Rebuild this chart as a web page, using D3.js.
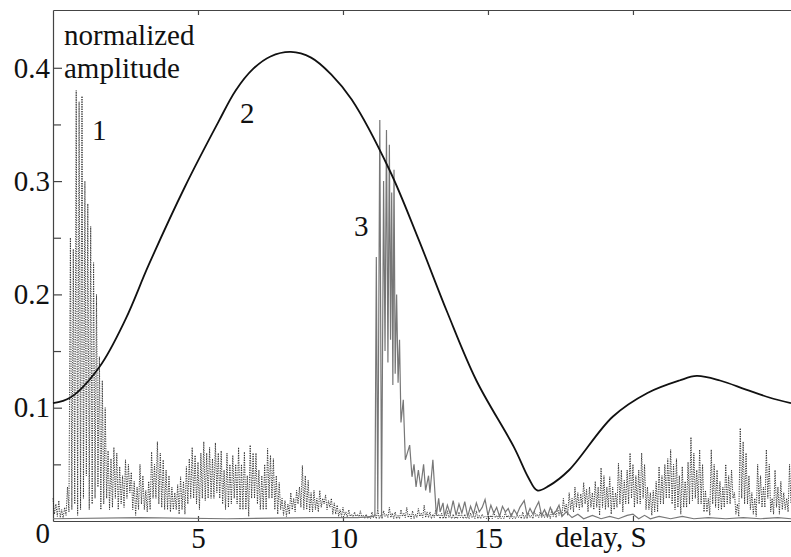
<!DOCTYPE html>
<html>
<head>
<meta charset="utf-8">
<script src="https://cdn.jsdelivr.net/npm/d3@7"></script>
<style>
  body { margin: 0; background: #fff; }
  svg text { font-family: "Liberation Serif", "DejaVu Serif", "Times New Roman", Times, serif !important; fill: #111; }
</style>
</head>
<body>
<svg id="chart" width="791" height="557"></svg>
<script>
// curve 1: dotted, sampled every 0.05 of delay (starting at 0)
var step1 = 0.05;
var amp1 = [
  0.02, 0.006, 0.015, 0.004, 0.018, 0.003, 0.01, 0.002, 0.012, 0.005,
  0.03, 0.008, 0.25, 0.01, 0.24, 0.015, 0.38, 0.005, 0.37, 0.01,
  0.375, 0.02, 0.3, 0.04, 0.28, 0.01, 0.26, 0.015, 0.228, 0.02,
  0.2, 0.03, 0.145, 0.01, 0.124, 0.015, 0.1, 0.02, 0.062, 0.01,
  0.055, 0.012, 0.065, 0.02, 0.06, 0.01, 0.048, 0.015, 0.04, 0.012,
  0.054, 0.02, 0.05, 0.025, 0.043, 0.01, 0.035, 0.005, 0.03, 0.01,
  0.05, 0.015, 0.04, 0.01, 0.027, 0.008, 0.035, 0.01, 0.061, 0.02,
  0.05, 0.02, 0.07, 0.015, 0.06, 0.012, 0.054, 0.01, 0.045, 0.01,
  0.04, 0.008, 0.03, 0.01, 0.025, 0.01, 0.032, 0.006, 0.039, 0.01,
  0.035, 0.006, 0.048, 0.015, 0.055, 0.02, 0.065, 0.02, 0.058, 0.015,
  0.052, 0.01, 0.06, 0.02, 0.07, 0.018, 0.06, 0.02, 0.065, 0.02,
  0.055, 0.02, 0.069, 0.025, 0.06, 0.02, 0.062, 0.015, 0.045, 0.01,
  0.06, 0.012, 0.05, 0.015, 0.058, 0.02, 0.05, 0.015, 0.065, 0.01,
  0.05, 0.01, 0.061, 0.01, 0.04, 0.004, 0.067, 0.02, 0.06, 0.02,
  0.06, 0.015, 0.045, 0.01, 0.04, 0.01, 0.05, 0.01, 0.064, 0.02,
  0.058, 0.02, 0.055, 0.01, 0.04, 0.006, 0.034, 0.01, 0.02, 0.005,
  0.018, 0.004, 0.015, 0.006, 0.025, 0.01, 0.02, 0.008, 0.027, 0.015,
  0.03, 0.012, 0.049, 0.01, 0.04, 0.01, 0.036, 0.008, 0.025, 0.008,
  0.027, 0.01, 0.02, 0.008, 0.027, 0.012, 0.02, 0.015, 0.023, 0.01,
  0.018, 0.012, 0.02, 0.006, 0.016, 0.006, 0.014, 0.004, 0.01, 0.004,
  0.012, 0.005, 0.008, 0.003, 0.01, 0.004, 0.006, 0.003, 0.008, 0.003,
  0.006, 0.003, 0.009, 0.003, 0.005, 0.002, 0.006, 0.002, 0.004, 0.002,
  0.008, 0.003, 0.006, 0.002, 0.01, 0.002, 0.005, 0.002, 0.009, 0.004,
  0.006, 0.003, 0.012, 0.003, 0.007, 0.002, 0.008, 0.002, 0.005, 0.002,
  0.01, 0.004, 0.007, 0.003, 0.012, 0.003, 0.006, 0.002, 0.009, 0.002,
  0.006, 0.003, 0.011, 0.004, 0.007, 0.003, 0.014, 0.003, 0.008, 0.003,
  0.008, 0.002, 0.006, 0.003, 0.01, 0.004, 0.006, 0.002, 0.007, 0.002,
  0.005, 0.002, 0.009, 0.003, 0.005, 0.002, 0.006, 0.002, 0.004, 0.002,
  0.008, 0.003, 0.005, 0.002, 0.006, 0.002, 0.004, 0.002, 0.007, 0.003,
  0.005, 0.002, 0.009, 0.002, 0.005, 0.002, 0.006, 0.003, 0.004, 0.002,
  0.007, 0.002, 0.005, 0.002, 0.009, 0.003, 0.005, 0.002, 0.006, 0.002,
  0.004, 0.002, 0.008, 0.003, 0.005, 0.002, 0.007, 0.002, 0.004, 0.002,
  0.006, 0.003, 0.005, 0.002, 0.008, 0.002, 0.005, 0.002, 0.007, 0.003,
  0.005, 0.002, 0.009, 0.004, 0.006, 0.003, 0.008, 0.003, 0.006, 0.003,
  0.008, 0.003, 0.006, 0.002, 0.01, 0.004, 0.008, 0.003, 0.012, 0.005,
  0.01, 0.004, 0.02, 0.008, 0.015, 0.005, 0.025, 0.01, 0.02, 0.008,
  0.03, 0.012, 0.025, 0.01, 0.024, 0.012, 0.034, 0.015, 0.028, 0.008,
  0.03, 0.012, 0.025, 0.01, 0.035, 0.012, 0.03, 0.005, 0.047, 0.012,
  0.04, 0.01, 0.03, 0.012, 0.039, 0.006, 0.03, 0.01, 0.025, 0.012,
  0.051, 0.015, 0.045, 0.008, 0.036, 0.015, 0.045, 0.015, 0.06, 0.02,
  0.05, 0.012, 0.04, 0.015, 0.045, 0.015, 0.06, 0.02, 0.05, 0.01,
  0.03, 0.01, 0.025, 0.005, 0.027, 0.008, 0.035, 0.008, 0.048, 0.015,
  0.04, 0.015, 0.05, 0.02, 0.055, 0.02, 0.063, 0.015, 0.05, 0.01,
  0.055, 0.012, 0.04, 0.006, 0.048, 0.012, 0.035, 0.012, 0.052, 0.015,
  0.074, 0.018, 0.06, 0.02, 0.045, 0.015, 0.063, 0.015, 0.05, 0.008,
  0.027, 0.008, 0.02, 0.005, 0.063, 0.015, 0.05, 0.012, 0.045, 0.01,
  0.035, 0.01, 0.03, 0.012, 0.05, 0.015, 0.04, 0.015, 0.045, 0.02,
  0.025, 0.006, 0.015, 0.004, 0.082, 0.02, 0.07, 0.015, 0.06, 0.015,
  0.04, 0.01, 0.025, 0.006, 0.02, 0.004, 0.05, 0.015, 0.04, 0.012,
  0.03, 0.012, 0.063, 0.02, 0.05, 0.008, 0.02, 0.006, 0.045, 0.012,
  0.03, 0.006, 0.035, 0.01, 0.025, 0.01, 0.02, 0.008, 0.05, 0.015
];

// curve 2: smooth, [delay, amplitude]
var curve2 = [
  [0, 0.104], [0.6, 0.109], [1.6, 0.136], [2.5, 0.178], [3.3, 0.226],
  [4.55, 0.295], [5.7, 0.352], [6.3, 0.38], [6.9, 0.399], [7.5, 0.41],
  [8.2, 0.414], [8.9, 0.409], [9.6, 0.394], [10.3, 0.372], [11.6, 0.31],
  [12.6, 0.249], [13.6, 0.184], [14.6, 0.124], [15.9, 0.065], [16.4, 0.038],
  [16.7, 0.027], [17.1, 0.031], [17.8, 0.045], [19.3, 0.092], [20.5, 0.113],
  [21.6, 0.124], [22.2, 0.128], [23.0, 0.124], [23.9, 0.116], [24.7, 0.109],
  [25.45, 0.104]
];

// curve 3: gray, [delay, amplitude]
var curve3 = [
  [0, 0.002], [3, 0.003], [6, 0.002], [9, 0.003], [10.5, 0.003], [11.05, 0.004],
  [11.1, 0.005], [11.15, 0.233], [11.2, 0.01], [11.27, 0.354], [11.33, 0.004],
  [11.4, 0.3], [11.45, 0.15], [11.5, 0.345], [11.55, 0.14], [11.6, 0.332],
  [11.64, 0.16], [11.68, 0.29], [11.72, 0.12], [11.76, 0.31], [11.8, 0.13],
  [11.85, 0.2], [11.9, 0.122], [11.95, 0.16], [12.0, 0.087], [12.08, 0.107],
  [12.15, 0.054], [12.3, 0.067], [12.38, 0.039], [12.45, 0.05], [12.52, 0.03],
  [12.6, 0.045], [12.68, 0.03], [12.78, 0.05], [12.85, 0.027], [12.95, 0.04],
  [13.0, 0.025], [13.1, 0.054], [13.22, 0.005], [13.3, 0.02], [13.35, 0.008],
  [13.45, 0.016], [13.5, 0.004], [13.6, 0.014], [13.7, 0.006], [13.8, 0.018],
  [13.9, 0.005], [14.0, 0.015], [14.1, 0.007], [14.2, 0.017], [14.3, 0.004],
  [14.4, 0.013], [14.5, 0.006], [14.6, 0.016], [14.7, 0.008], [14.8, 0.012],
  [14.9, 0.019], [15.0, 0.005], [15.1, 0.014], [15.2, 0.007], [15.3, 0.012],
  [15.4, 0.004], [15.5, 0.013], [15.6, 0.008], [15.7, 0.011], [15.8, 0.004],
  [15.9, 0.01], [16.0, 0.006], [16.1, 0.012], [16.25, 0.018], [16.35, 0.005],
  [16.45, 0.011], [16.55, 0.006], [16.65, 0.012], [16.75, 0.017], [16.85, 0.005],
  [16.95, 0.01], [17.05, 0.004], [17.15, 0.012], [17.25, 0.006], [17.35, 0.009],
  [17.45, 0.014], [17.55, 0.004], [17.7, 0.008], [17.9, 0.003], [18.1, 0.006],
  [18.3, 0.002], [18.6, 0.005], [18.9, 0.002], [19.2, 0.004], [19.5, 0.002],
  [19.8, 0.005], [20.0, 0.006], [20.2, 0.002], [20.4, 0.005], [20.6, 0.002],
  [20.9, 0.004], [21.3, 0.002], [21.7, 0.004], [22.1, 0.002], [22.6, 0.003],
  [23.2, 0.002], [23.8, 0.003], [24.4, 0.002], [25.0, 0.003], [25.45, 0.002]
];

var yMajor = [0.1, 0.2, 0.3, 0.4];
var yMinor = [0.05, 0.15, 0.25, 0.35];
var xTicks = [5, 10, 15, 20];
var xLabels = [5, 10, 15];

var svg = d3.select("#chart");
var x = d3.scaleLinear().domain([0, 25.45]).range([53, 791]);
var y = d3.scaleLinear().domain([0, 0.451]).range([521, 10]);
var fs = 29;
var serif = '"Liberation Serif", "DejaVu Serif", "Times New Roman", Times, serif';

// axes
svg.append("g").attr("transform", "translate(53,0)")
  .call(d3.axisLeft(y).tickValues(yMajor).tickSizeInner(-9).tickSizeOuter(0)
    .tickPadding(3).tickFormat(d3.format(".1f")));
svg.append("g").attr("transform", "translate(53,0)")
  .call(d3.axisLeft(y).tickValues(yMinor).tickSizeInner(-8).tickSizeOuter(0).tickFormat(""))
  .select(".domain").remove();

svg.append("g").attr("transform", "translate(0,521)")
  .call(d3.axisBottom(x).tickValues(xTicks).tickSizeInner(-5).tickSizeOuter(0)
    .tickPadding(6).tickFormat(function(d) { return xLabels.indexOf(d) >= 0 ? d : ""; }));
svg.append("g").attr("transform", "translate(0,10)")
  .call(d3.axisTop(x).tickValues(xTicks).tickSizeInner(-5).tickSizeOuter(0).tickFormat(""));

svg.selectAll("g").attr("font-family", serif);
svg.selectAll(".tick text").attr("font-size", fs).attr("font-family", serif).attr("fill", "#111");
svg.selectAll(".domain, .tick line").attr("stroke", "#444").attr("stroke-width", 1.2);

// curve 1
var line1 = d3.line().x(function(d, i) { return x(i * step1); }).y(function(d) { return y(d); });
svg.append("path").datum(amp1).attr("d", line1)
  .attr("fill", "none").attr("stroke", "#222").attr("stroke-width", 0.9)
  .attr("stroke-dasharray", "1.2,1.2");

// curve 3
var line3 = d3.line().x(function(d) { return x(d[0]); }).y(function(d) { return y(d[1]); });
svg.append("path").datum(curve3).attr("d", line3)
  .attr("fill", "none").attr("stroke", "#777").attr("stroke-width", 1.2);

// curve 2
var line2 = d3.line().x(function(d) { return x(d[0]); }).y(function(d) { return y(d[1]); })
  .curve(d3.curveCatmullRom.alpha(0.5));
svg.append("path").datum(curve2).attr("d", line2)
  .attr("fill", "none").attr("stroke", "#111").attr("stroke-width", 1.8);

// labels
function label(t, px, py, anchor) {
  svg.append("text").attr("x", px).attr("y", py).attr("text-anchor", anchor || "start")
    .attr("font-family", serif).attr("font-size", fs).text(t);
}
label("normalized", 64, 45);
label("amplitude", 64, 78);
label("0", 50, 543, "end");
label("delay, S", 555, 547);
label("1", 92, 140);
label("2", 240, 123);
label("3", 354, 236);
</script>
</body>
</html>
